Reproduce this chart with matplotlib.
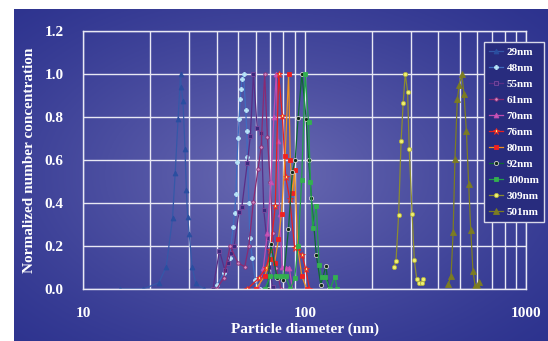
import numpy as np
import matplotlib
matplotlib.use("Agg")
import matplotlib.pyplot as plt
from matplotlib.ticker import LogLocator, NullFormatter, FixedLocator

# particle size distributions (diameter in nm, normalized number concentration)
d29 = [14.7, 18.7, 22.0, 23.7, 25.3, 26.0, 26.8, 27.5, 27.7, 28.2, 28.8, 29.2, 29.6, 30.1, 31.0, 32.2, 35.2]
v29 = [0.0, 0.0, 0.03, 0.104, 0.329, 0.538, 0.791, 1.0, 0.938, 0.876, 0.651, 0.46, 0.336, 0.254, 0.104, 0.026, 0.0]

d48 = [40.1, 43.1, 45.8, 47.5, 48.2, 48.9, 49.4, 50.0, 50.5, 51.1, 51.6, 52.0, 52.9, 54.1, 54.7, 55.1, 55.9, 56.5, 58.0, 59.7, 63.0]
v48 = [0.019, 0.073, 0.143, 0.29, 0.352, 0.44, 0.589, 0.704, 0.789, 0.882, 0.929, 0.975, 1.0, 0.833, 0.735, 0.616, 0.398, 0.236, 0.143, 0.042, 0.0]

d55 = [38.5, 41.2, 43.5, 45.0, 46.3, 48.0, 50.5, 52.0, 55.0, 56.8, 58.6, 61.0, 63.7, 65.3, 67.3, 69.0, 71.6]
v55 = [0.0, 0.178, 0.09, 0.12, 0.169, 0.2, 0.36, 0.383, 0.584, 0.712, 1.0, 0.747, 0.724, 0.367, 0.236, 0.104, 0.01]

d61 = [40.0, 43.0, 46.0, 50.0, 53.6, 55.9, 58.6, 61.5, 63.5, 65.9, 67.8, 69.8, 71.6, 74.3, 78.0]
v61 = [0.0, 0.05, 0.2, 0.12, 0.104, 0.2, 0.406, 0.556, 0.66, 1.0, 0.707, 0.5, 0.26, 0.1, 0.0]

d70 = [62.0, 65.0, 67.8, 70.3, 72.5, 74.3, 75.7, 77.0, 79.0, 82.0, 85.0, 88.0]
v70 = [0.0, 0.1, 0.26, 0.5, 0.8, 1.0, 0.69, 0.35, 0.104, 0.096, 0.1, 0.0]

d76 = [55.0, 62.0, 67.0, 70.0, 73.6, 76.2, 79.2, 82.0, 85.5, 90.0, 97.0, 101.0, 105.0]
v76 = [0.0, 0.05, 0.1, 0.18, 0.387, 1.0, 0.805, 0.52, 0.42, 0.19, 0.158, 0.093, 0.0]

d80 = [60.0, 66.0, 69.9, 73.0, 76.0, 78.5, 81.5, 84.5, 86.0, 88.0, 90.0, 93.0, 97.0, 102.0]
v80 = [0.0, 0.06, 0.14, 0.12, 0.231, 0.35, 0.62, 1.0, 0.6, 0.445, 0.553, 0.19, 0.06, 0.0]

d92 = [68.0, 70.3, 75.0, 80.0, 84.4, 87.8, 90.5, 93.3, 97.0, 101.4, 104.0, 107.2, 112.7, 118.0, 124.7, 128.0]
v92 = [0.0, 0.21, 0.05, 0.04, 0.278, 0.543, 0.6, 0.797, 1.0, 0.791, 0.6, 0.422, 0.158, 0.02, 0.108, 0.0]

d100 = [66.0, 70.0, 74.0, 78.0, 82.0, 86.0, 90.0, 93.3, 96.8, 100.4, 104.0, 106.0, 108.6, 112.7, 116.0, 119.0, 123.3, 130.0, 136.7, 140.0]
v100 = [0.0, 0.06, 0.06, 0.06, 0.06, 0.0, 0.05, 0.2, 0.507, 1.0, 0.778, 0.5, 0.282, 0.388, 0.112, 0.057, 0.057, 0.0, 0.057, 0.0]

d309 = [253, 258, 265, 272, 278, 284, 291, 296, 305, 312, 320, 329, 337, 343]
v309 = [0.104, 0.13, 0.343, 0.688, 0.867, 1.0, 0.918, 0.65, 0.349, 0.135, 0.047, 0.029, 0.029, 0.047]

d501 = [444, 457, 467, 476, 488, 498, 511, 523, 536, 549, 561, 574, 587, 603, 613]
v501 = [0.023, 0.06, 0.264, 0.605, 0.883, 0.95, 1.0, 0.906, 0.735, 0.487, 0.274, 0.084, 0.014, 0.011, 0.034]

labels = ["29nm", "48nm", "55nm", "61nm", "70nm", "76nm", "80nm", "92nm", "100nm", "309nm", "501nm"]

# (line colour, marker, marker face, marker edge, marker size)
styles = [
    ("#3558a8", "^", "#2a4ea0", "#2a4ea0", 3.5),
    ("#3f6cc0", "P", "#b8e4f8", "#b8e4f8", 3),
    ("#5a2e86", "s", "#3a2a7e", "#7a4aa0", 3),
    ("#8a2a72", "o", "#d090c8", "#8a2a72", 2.5),
    ("#c04cb0", "^", "#c858b8", "#c04cb0", 3.5),
    ("#e82020", "*", "#fff080", "#e82020", 4.5),
    ("#f09020", "s", "#f02020", "#f02020", 3),
    ("#0e6a32", "o", "#102818", "#d0d0d0", 3),
    ("#22a04a", "s", "#34b050", "#34b050", 3),
    ("#8c8c30", "o", "#f0f070", "#b0b040", 3),
    ("#7c7c22", "^", "#7c7c22", "#7c7c22", 4),
]

series = [(d29, v29), (d48, v48), (d55, v55), (d61, v61), (d70, v70), (d76, v76),
          (d80, v80), (d92, v92), (d100, v100), (d309, v309), (d501, v501)]

plt.rcParams["font.family"] = ["Liberation Serif", "DejaVu Serif"]
plt.rcParams["font.weight"] = "bold"

W, H = 548, 341
fig = plt.figure(figsize=(W / 100, H / 100), dpi=100)
fig.patch.set_facecolor("white")

# gradient panel behind the chart
bg = fig.add_axes([14 / W, 0, 1 - 14 / W, 1 - 9 / H])
yy, xx = np.mgrid[0:1:200j, 0:1:300j]
r = np.sqrt(((xx - 0.48) / 0.75) ** 2 + ((yy - 0.5) / 0.75) ** 2)
t = np.clip(1 - r, 0, 1) ** 1.3
edge = np.array([44, 50, 142]) / 255
center = np.array([106, 106, 178]) / 255
img = edge[None, None, :] + (center - edge)[None, None, :] * t[..., None]
bg.imshow(img, aspect="auto", extent=[0, 1, 0, 1])
bg.set_axis_off()

ax = fig.add_axes([83.2 / W, (H - 289) / H, 443.2 / W, 258 / H])
ax.set_facecolor("none")

for (d, v), lab, (lc, mk, mf, me, ms) in zip(series, labels, styles):
    ax.plot(d, v, color=lc, lw=0.9, marker=mk, markersize=ms,
            markerfacecolor=mf, markeredgecolor=me, markeredgewidth=0.6, label=lab)

ax.set_xscale("log")
ax.set_xlim(10, 1000)
ax.set_ylim(0, 1.2)
ax.set_yticks(np.arange(0, 1.21, 0.2))
ax.set_yticklabels([f"{y:.1f}" for y in np.arange(0, 1.21, 0.2)])
ax.xaxis.set_major_locator(FixedLocator([10, 100, 1000]))
ax.set_xticklabels(["10", "100", "1000"])
ax.xaxis.set_minor_locator(LogLocator(base=10, subs=np.arange(2, 10)))
ax.xaxis.set_minor_formatter(NullFormatter())

ax.grid(True, which="both", axis="x", color="#e8e8f4", lw=1.0)
ax.grid(True, which="major", axis="y", color="#e8e8f4", lw=1.0)
ax.set_axisbelow(True)
for s in ax.spines.values():
    s.set_color("#e8e8f4")
    s.set_linewidth(1.0)

ax.tick_params(axis="both", which="both", length=0, colors="white", labelsize=11)
ax.tick_params(axis="y", pad=14)
ax.tick_params(axis="x", pad=13)

ax.set_xlabel("Particle diameter (nm)", color="white", fontsize=11, fontweight="bold", labelpad=2)
ax.set_ylabel("Normalized number concentration", color="white", fontsize=11, fontweight="bold", labelpad=6)

leg = ax.legend(loc="upper left", bbox_to_anchor=(484 / W, 1 - 42 / H), bbox_transform=fig.transFigure,
                prop={"family": ["Liberation Serif"], "weight": "bold", "size": 8},
                frameon=True, fancybox=False, framealpha=1, facecolor="#282c7e",
                edgecolor="#d8d8e8", handlelength=1.25, handletextpad=0.35,
                labelspacing=0.56, borderpad=0.45, borderaxespad=0)
leg.get_frame().set_linewidth(1.0)
for txt in leg.get_texts():
    txt.set_color("white")

fig.savefig("out.png", dpi=100)
